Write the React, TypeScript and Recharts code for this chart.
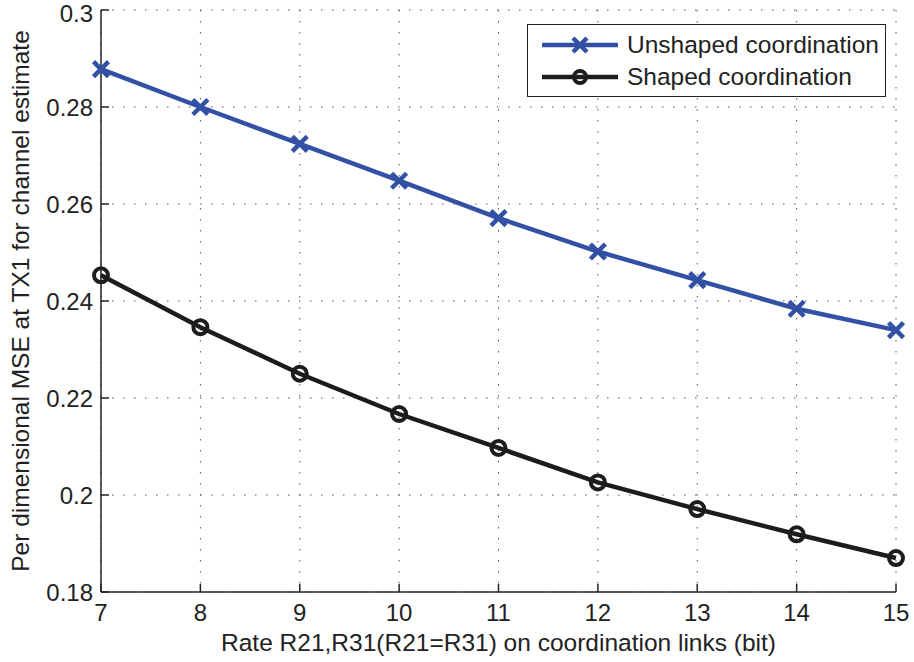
import React from 'react';
import { LineChart, Line, XAxis, YAxis, CartesianGrid, Legend } from 'recharts';

const rates = [7, 8, 9, 10, 11, 12, 13, 14, 15];
const unshaped = [0.2878, 0.28, 0.2724, 0.2648, 0.2571, 0.2502, 0.2443, 0.2384, 0.234];
const shaped = [0.2453, 0.2346, 0.225, 0.2167, 0.2097, 0.2026, 0.1971, 0.1919, 0.187];
const xTicks = [7, 8, 9, 10, 11, 12, 13, 14, 15];
const yTicks = [0.18, 0.2, 0.22, 0.24, 0.26, 0.28, 0.3];
const seriesNames = ['Unshaped coordination', 'Shaped coordination'];
const xTitle = 'Rate R21,R31(R21=R31) on coordination links (bit)';
const yTitle = 'Per dimensional MSE at TX1 for channel estimate';

const BLUE = '#3251a5';
const BLACK = '#1c1c1c';
const FONT = '"Liberation Sans", Arial, Helvetica, sans-serif';
const FS = 24.5;
const TFS = 24;

const data = rates.map((x, i) => ({ x, u: unshaped[i], s: shaped[i] }));

const XMark = (props: any) => {
  const { cx, cy, index } = props;
  if (cx == null || cy == null) return <g key={`xm${index}`} />;
  const r = 7.5;
  return (
    <path
      key={`xm${index}`}
      d={`M${cx - r},${cy - r}L${cx + r},${cy + r}M${cx - r},${cy + r}L${cx + r},${cy - r}`}
      stroke={BLUE}
      strokeWidth={4.5}
      fill="none"
    />
  );
};

const OMark = (props: any) => {
  const { cx, cy, index } = props;
  if (cx == null || cy == null) return <g key={`om${index}`} />;
  return <circle key={`om${index}`} cx={cx} cy={cy} r={7} stroke={BLACK} strokeWidth={4} fill="none" />;
};

const renderLegend = () => (
  <div
    style={{
      width: 357,
      height: 71,
      border: '1.5px solid #222',
      background: '#fff',
      fontFamily: FONT,
      fontSize: FS,
      color: '#222',
      boxSizing: 'content-box',
    }}
  >
    {seriesNames.map((name, i) => (
      <div key={name} style={{ display: 'flex', alignItems: 'center', height: 32, marginTop: i === 0 ? 4 : 0 }}>
        <svg width={99} height={32} style={{ display: 'block', flex: 'none' }}>
          <line x1={14} x2={90} y1={16} y2={16} stroke={i === 0 ? BLUE : BLACK} strokeWidth={4.5} />
          {i === 0 ? (
            <path d="M45,9L59,23M45,23L59,9" stroke={BLUE} strokeWidth={4.5} fill="none" />
          ) : (
            <circle cx={52} cy={16} r={6} stroke={BLACK} strokeWidth={4} fill="none" />
          )}
        </svg>
        <span style={{ whiteSpace: 'nowrap' }}>{name}</span>
      </div>
    ))}
  </div>
);

const fmt = (v: number) => String(Number(v.toFixed(2)));

const YTitle = (props: any) => {
  const vb = props.viewBox || { x: 0, y: 0, width: 0, height: 0 };
  const x = vb.x + 20;
  const y = vb.y + vb.height / 2;
  return (
    <text
      x={x}
      y={y}
      transform={`rotate(-90 ${x} ${y})`}
      textAnchor="middle"
      dominantBaseline="central"
      fontFamily={FONT}
      fontSize={FS}
      fill="#222"
    >
      {yTitle}
    </text>
  );
};

const XTitle = (props: any) => {
  const vb = props.viewBox || { x: 0, y: 0, width: 0, height: 0 };
  return (
    <text x={vb.x + vb.width / 2} y={vb.y + 59} textAnchor="middle" fontFamily={FONT} fontSize={FS} fill="#222">
      {xTitle}
    </text>
  );
};

export default function App() {
  const axisStroke = '#222';
  const tickStyle = { fontFamily: FONT, fontSize: TFS, fill: '#222' };
  const tl = { stroke: '#222', strokeWidth: 1.5 };
  return (
    <div style={{ position: 'absolute', left: 0, top: 0, background: '#fff' }}>
      <LineChart width={914} height={662} data={data} margin={{ top: 10, right: 18, bottom: 0, left: 0 }}>
        <CartesianGrid stroke="#555" strokeWidth={1} strokeDasharray="1.5 9.5" horizontalValues={yTicks} verticalValues={xTicks} />
        <XAxis
          dataKey="x"
          type="number"
          domain={[7, 15]}
          ticks={xTicks}
          height={70}
          tickSize={-8}
          tickMargin={20}
          tick={tickStyle}
          tickLine={tl}
          stroke={axisStroke}
          strokeWidth={1.5}
          label={<XTitle />}
        />
        <XAxis
          xAxisId="top"
          orientation="top"
          dataKey="x"
          type="number"
          domain={[7, 15]}
          ticks={xTicks}
          height={0}
          tickSize={-8}
          tick={false}
          tickLine={tl}
          stroke={axisStroke}
          strokeWidth={1.5}
        />
        <YAxis
          type="number"
          domain={[0.18, 0.3]}
          ticks={yTicks}
          width={101}
          tickSize={-8}
          tickMargin={16}
          tick={tickStyle}
          tickLine={tl}
          tickFormatter={fmt}
          stroke={axisStroke}
          strokeWidth={1.5}
          label={<YTitle />}
        />
        <YAxis
          yAxisId="right"
          orientation="right"
          type="number"
          domain={[0.18, 0.3]}
          ticks={yTicks}
          width={0}
          tickSize={-8}
          tick={false}
          tickLine={tl}
          stroke={axisStroke}
          strokeWidth={1.5}
        />
        <Legend
          layout="vertical"
          align="center"
          verticalAlign="middle"
          content={renderLegend}
          wrapperStyle={{ position: 'absolute', left: 527, top: 24, width: 360 }}
        />
        <Line
          dataKey="u"
          name={seriesNames[0]}
          stroke={BLUE}
          strokeWidth={4.5}
          dot={XMark}
          activeDot={false}
          isAnimationActive={false}
        />
        <Line
          dataKey="s"
          name={seriesNames[1]}
          stroke={BLACK}
          strokeWidth={4.5}
          dot={OMark}
          activeDot={false}
          isAnimationActive={false}
        />
      </LineChart>
    </div>
  );
}
